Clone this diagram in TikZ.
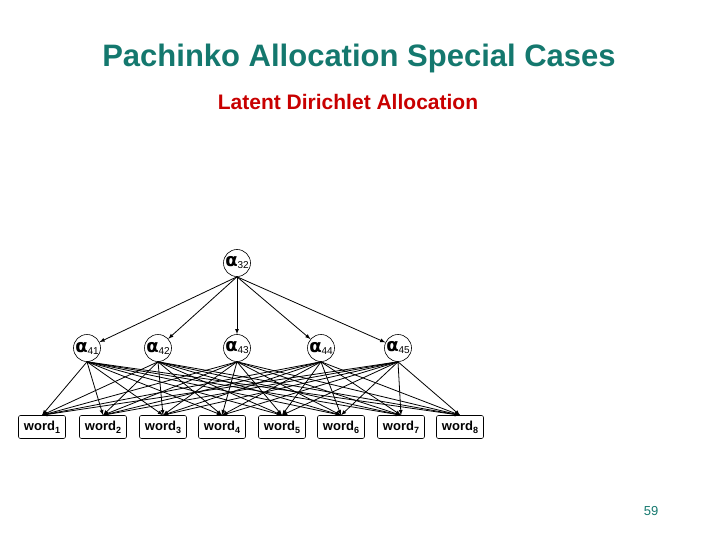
\documentclass[tikz,border=0pt]{standalone}
\usepackage{fontspec}
\setmainfont{Liberation Sans}
\newfontfamily\grk{DejaVu Sans}
\begin{document}
\begin{tikzpicture}[x=1pt,y=-1pt,
  alpha/.style={circle,draw,line width=0.6pt,minimum size=27pt,inner sep=0pt,font=\fontsize{18}{18}\selectfont},
  word/.style={draw,line width=0.6pt,rounded corners=2pt,minimum width=47pt,minimum height=23pt,inner sep=1pt,font=\fontsize{13}{15}\selectfont\bfseries},
  arr/.style={-latex,line width=0.8pt}]
\useasboundingbox (0,0) rectangle (720,540);
\node (title) at (359,58) {\fontsize{31}{34}\selectfont\bfseries\color[RGB]{20,120,110}Pachinko Allocation Special Cases};
\node (sub) at (348,102) {\fontsize{21}{25}\selectfont\color[RGB]{200,0,0}\textbf{Latent Dirichlet Allocation}};
\node[alpha] (a32) at (237,263) {{\grk\bfseries α}\raisebox{-2pt}{\fontsize{10}{11}\selectfont 32}};
\foreach \x/\n in {87/41,158/42,237/43,321/44,398/45}
  \node[alpha] (a\n) at (\x,348) {{\grk\bfseries α}\raisebox{-2pt}{\fontsize{10}{11}\selectfont \n}};
\foreach \x/\n in {42/1,103/2,163/3,222/4,282/5,341/6,401/7,460/8}
  \node[word] (w\n) at (\x,427) {word\raisebox{-3pt}{\fontsize{9}{10}\selectfont \n}};
\foreach \n in {41,42,43,44,45} \draw[arr] (a32.south) -- (a\n);
\foreach \n in {41,42,43,44,45}
  \foreach \m in {1,...,8}
    \draw[arr] (a\n.south) -- (w\m.north);
\node (pg) at (651,511) {\fontsize{13}{15}\selectfont\color[RGB]{20,120,110}59};
\end{tikzpicture}
\end{document}
